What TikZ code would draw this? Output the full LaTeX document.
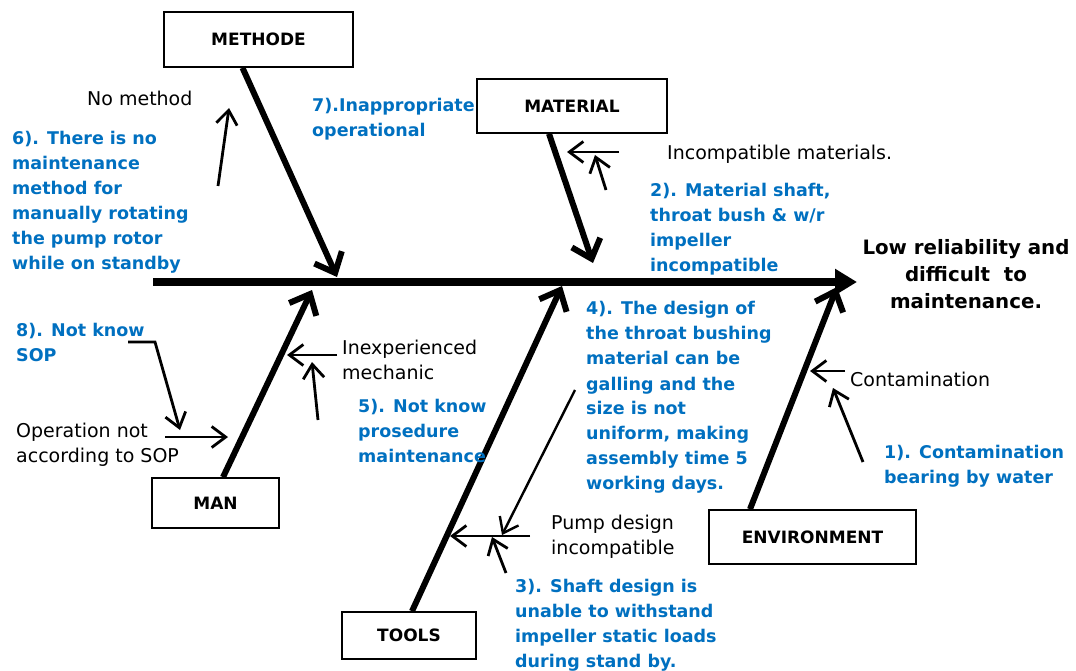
\documentclass[tikz,border=0pt]{standalone}
\usepackage{fontspec}
\setmainfont{DejaVu Sans}
\usetikzlibrary{arrows.meta}
\definecolor{wordblue}{RGB}{0,112,192}
\colorlet{blx}{wordblue}
\tikzset{
    catbox/.style={draw,line width=1.6pt,inner sep=0pt,font=\bfseries\fontsize{17}{20}\selectfont},
    cause/.style={inner sep=0pt,align=left,anchor=north west,font=\fontsize{19}{25}\selectfont},
    subcause/.style={blx,inner sep=0pt,align=left,anchor=north west,font=\bfseries\fontsize{17.5}{25}\selectfont},
    spine/.style={line width=8pt,-{Triangle[length=22pt,width=25pt]}},
    bone/.style={line width=6pt,-{Straight Barb[length=17pt,width=30pt]}},
    twig/.style={line width=2.8pt,-{Straight Barb[length=14pt,width=21pt]}}
}

\begin{document}
\begin{tikzpicture}[x=1pt,y=-1pt]
            \fill [white] (0,0) rectangle (1076,671);
            \useasboundingbox (0,0) rectangle (1076,671);
            % category boxes
            \node [catbox,minimum width=189pt,minimum height=55pt] (methode) at (258.5,39.5) {METHODE};
            \node [catbox,minimum width=190pt,minimum height=54pt] (material) at (572,106) {MATERIAL};
            \node [catbox,minimum width=127pt,minimum height=50pt] (man) at (215.5,503) {MAN};
            \node [catbox,minimum width=134pt,minimum height=47pt] (tools) at (409,635.5) {TOOLS};
            \node [catbox,minimum width=207pt,minimum height=54pt] (envir) at (812.5,537) {ENVIRONMENT};
            % spine and effect
            \coordinate (tail) at (153,282);
            \coordinate (head) at (857,282);
            \node [inner sep=0pt,align=center,anchor=north,font=\bfseries\fontsize{19.8}{27}\selectfont] (effect) at (966,239)
                {Low reliability and\\difficult~ to\\maintenance.};
            \draw [spine] (tail) -- (head);
            \coordinate (jmeth) at (337,277);
            \coordinate (jmat) at (593,263);
            \coordinate (jman) at (312,290);
            \coordinate (jtool) at (562,286);
            \coordinate (jenv) at (837,287);
            \draw [bone] ([xshift=-16pt]methode.south) -- (jmeth);
            \draw [bone] ([xshift=-23pt]material.south) -- (jmat);
            \draw [bone] ([xshift=7.5pt]man.north) -- (jman);
            \draw [bone] ([xshift=3pt]tools.north) -- (jtool);
            \draw [bone] ([xshift=-62.5pt]envir.north) -- (jenv);
            % causes
            \node [cause] (nometh) at (87,91) {No method};
            \node [cause] (incmat) at (667,145) {Incompatible materials.};
            \node [cause] (inexp) at (342,340) {Inexperienced\\mechanic};
            \node [cause] (oper) at (16,423) {Operation not\\according to SOP};
            \node [cause] (contam) at (850,372) {Contamination};
            \node [cause] (pump) at (551,515) {Pump design\\incompatible};
            % sub causes
            \node [subcause] (sc1) at (884,445.5) {1). Contamination\\bearing by water};
            \node [subcause] (sc2) at (650,183.5) {2). Material shaft,\\throat bush \& w/r\\impeller\\incompatible};
            \node [subcause] (sc3) at (515,578.5) {3). Shaft design is\\unable to withstand\\impeller static loads\\during stand by.};
            \node [subcause] (sc4) at (586,301.5) {4). The design of\\the throat bushing\\material can be\\galling and the\\size is not\\uniform, making\\assembly time 5\\working days.};
            \node [subcause] (sc5) at (358,399.5) {5). Not know\\prosedure\\maintenance};
            \node [subcause] (sc6) at (12,131.5) {6). There is no\\maintenance\\method for\\manually rotating\\the pump rotor\\while on standby};
            \node [subcause] (sc7) at (312,98.5) {7).Inappropriate\\operational};
            \node [subcause] (sc8) at (16,323.5) {8). Not know\\SOP};
            % twigs
            \coordinate (nmA) at (218,186);
            \coordinate (nmB) at (229,108);
            \coordinate (imA) at (619,152);
            \coordinate (imB) at (567,152);
            \coordinate (s2A) at (606,190);
            \coordinate (s2B) at (595,155);
            \coordinate (ieA) at (337,355);
            \coordinate (ieB) at (287,355);
            \coordinate (s5A) at (318,420);
            \coordinate (s5B) at (312,362);
            \coordinate (s8A) at (128,342);
            \coordinate (s8K) at (155,342);
            \coordinate (s8B) at (180,430);
            \coordinate (opA) at (165,437);
            \coordinate (opB) at (228,437);
            \coordinate (ctA) at (845,371);
            \coordinate (ctB) at (810,371);
            \coordinate (s1A) at (863,462);
            \coordinate (s1B) at (833,388);
            \coordinate (pdA) at (530,536);
            \coordinate (pdB) at (450,536);
            \coordinate (s4A) at (575,390);
            \coordinate (s4B) at (502,535);
            \coordinate (s3A) at (506,573);
            \coordinate (s3B) at (492,537);
            \draw [twig] (nmA) -- (nmB);
            \draw [twig] (imA) -- (imB);
            \draw [twig] (s2A) -- (s2B);
            \draw [twig] (ieA) -- (ieB);
            \draw [twig] (s5A) -- (s5B);
            \draw [twig] (s8A) -- (s8K) -- (s8B);
            \draw [twig] (opA) -- (opB);
            \draw [twig] (ctA) -- (ctB);
            \draw [twig] (s1A) -- (s1B);
            \draw [twig] (pdA) -- (pdB);
            \draw [twig,line width=2.4pt] (s4A) -- (s4B);
            \draw [twig] (s3A) -- (s3B);
        \end{tikzpicture}
\end{document}
